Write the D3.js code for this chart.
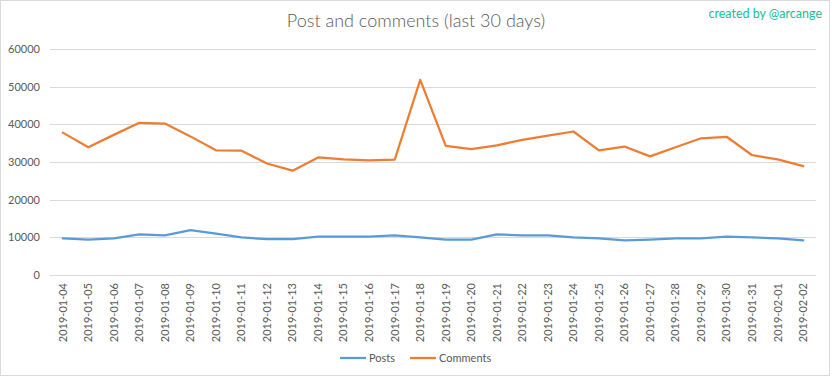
<!DOCTYPE html>
<html lang="en">
<head>
    <meta charset="UTF-8">
    <title>Post and comments</title>
    <style>
    body { margin: 0; background: #fff; }
    text { font-family: Lato, "Open Sans", sans-serif; }
    .grid line { stroke: #d9d9d9; stroke-width: 1; shape-rendering: crispEdges; }
    .axis text { fill: #595959; font-size: 11px; }
    .title { fill: #595959; font-size: 18px; font-weight: 300; text-anchor: middle; }
    .credit { fill: #1abc9c; font-size: 12.5px; text-anchor: end; }
    .legend text { fill: #595959; font-size: 11px; }
    </style>
</head>
<body>
<script src="https://cdn.jsdelivr.net/npm/d3@7"></script>
<script>
let days = ['2019-01-04', '2019-01-05', '2019-01-06', '2019-01-07', '2019-01-08', '2019-01-09',
    '2019-01-10', '2019-01-11', '2019-01-12', '2019-01-13', '2019-01-14', '2019-01-15',
    '2019-01-16', '2019-01-17', '2019-01-18', '2019-01-19', '2019-01-20', '2019-01-21',
    '2019-01-22', '2019-01-23', '2019-01-24', '2019-01-25', '2019-01-26', '2019-01-27',
    '2019-01-28', '2019-01-29', '2019-01-30', '2019-01-31', '2019-02-01', '2019-02-02'];

let posts = [9700, 9400, 9700, 10800, 10500, 11900, 11000, 10000, 9500, 9500,
    10200, 10200, 10200, 10500, 10000, 9400, 9400, 10800, 10500, 10500,
    10000, 9700, 9200, 9400, 9700, 9700, 10200, 10000, 9700, 9200];

let comments = [37800, 33900, 37200, 40400, 40200, 36800, 33100, 33000, 29600, 27700,
    31200, 30700, 30400, 30600, 51800, 34300, 33400, 34400, 35900, 37000,
    38100, 33100, 34100, 31500, 33900, 36300, 36700, 31800, 30700, 28900];

let yTicks = [0, 10000, 20000, 30000, 40000, 50000, 60000];

let seriesNames = ['Posts', 'Comments'];
let seriesColors = ['#5b9bd5', '#ed7d31'];

let width = 832, height = 378;
let plotLeft = 50, plotRight = 816, plotTop = 49, plotBottom = 275;

let svg = d3.select('body').append('svg')
    .attr('width', width)
    .attr('height', height);

// chart border
svg.append('rect')
    .attr('x', 0.5).attr('y', 0.5)
    .attr('width', width - 3).attr('height', height - 3)
    .attr('fill', 'white')
    .attr('stroke', '#d9d9d9');

let x = d3.scaleBand().domain(days).range([plotLeft, plotRight]);
let y = d3.scaleLinear().domain([0, 60000]).range([plotBottom, plotTop]);

// gridlines
svg.append('g')
    .attr('class', 'grid')
    .selectAll('line')
    .data(yTicks)
    .enter()
    .append('line')
    .attr('x1', plotLeft).attr('x2', plotRight)
    .attr('y1', d => Math.round(y(d)) + 0.5)
    .attr('y2', d => Math.round(y(d)) + 0.5);

// y axis labels
let yAxis = svg.append('g')
    .attr('class', 'axis')
    .attr('transform', `translate(${plotLeft}, 0)`)
    .call(d3.axisLeft(y).tickValues(yTicks).tickSize(0).tickPadding(10).tickFormat(d3.format('d')));
yAxis.select('.domain').remove();

// x axis labels
let xAxis = svg.append('g')
    .attr('class', 'axis')
    .attr('transform', `translate(0, ${plotBottom})`)
    .call(d3.axisBottom(x).tickSize(0));
xAxis.select('.domain').remove();
xAxis.selectAll('text')
    .attr('transform', 'rotate(-90)')
    .attr('x', -8)
    .attr('y', 0)
    .attr('dy', '0.35em')
    .style('text-anchor', 'end');

// lines
let line = d3.line()
    .x((d, i) => x(days[i]) + x.bandwidth() / 2)
    .y(d => y(d));

[posts, comments].forEach((s, i) => {
    svg.append('path')
        .datum(s)
        .attr('fill', 'none')
        .attr('stroke', seriesColors[i])
        .attr('stroke-width', 2.25)
        .attr('stroke-linejoin', 'round')
        .attr('stroke-linecap', 'round')
        .attr('d', line);
});

// title
svg.append('text')
    .attr('class', 'title')
    .attr('x', 416)
    .attr('y', 27)
    .text('Post and comments (last 30 days)');

svg.append('text')
    .attr('class', 'credit')
    .attr('x', 822)
    .attr('y', 18)
    .text('created by @arcange');

// legend
let legendX = [340, 410];
let legend = svg.selectAll('.legend')
    .data(seriesNames)
    .enter()
    .append('g')
    .attr('class', 'legend')
    .attr('transform', (d, i) => `translate(${legendX[i]}, 358)`);

legend.append('line')
    .attr('x1', 0).attr('x2', 26)
    .attr('y1', 0).attr('y2', 0)
    .attr('stroke', (d, i) => seriesColors[i])
    .attr('stroke-width', 2.25);

legend.append('text')
    .attr('x', 29)
    .attr('y', 0)
    .attr('dy', '0.35em')
    .text(d => d);
</script>
</body>
</html>
